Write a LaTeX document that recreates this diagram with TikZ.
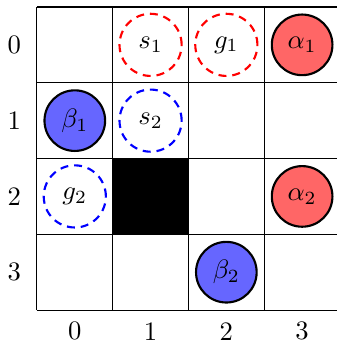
\documentclass[tikz,border=0pt]{standalone}
\usepackage{tikz}
\usetikzlibrary{positioning}
\definecolor{agentred}{HTML}{FF6666}
\definecolor{agentblue}{HTML}{6666FF}

\begin{document}
\begin{tikzpicture}[
  x=1cm, y=1cm,
  agent/.style={circle, draw=black, thick, minimum size=0.8cm, inner sep=0pt},
  target/.style={circle, thick, dash pattern=on 3pt off 2.2pt, minimum size=0.82cm, inner sep=0pt, text=black},
  cellnum/.style={font=\normalsize}
]
\useasboundingbox (-0.487,-0.474) rectangle (3.947,4.092);
% grid and wall
\fill[black] (1,1) rectangle (2,2);
\draw[thin] (0,0) grid (4,4);
\foreach \i in {0,...,3} {
  \node[cellnum] (row\i) at (-0.3,3.5-\i) {\i};
  \node[cellnum] (col\i) at (\i+0.5,-0.28) {\i};
}
% starts and goals
\node[target, draw=red] (s1) at (1.5,3.5) {$s_1$};
\node[target, draw=red] (g1) at (2.5,3.5) {$g_1$};
\node[target, draw=blue] (s2) at (1.5,2.5) {$s_2$};
\node[target, draw=blue] (g2) at (0.5,1.5) {$g_2$};
% agents
\node[agent, fill=agentred] (a1) at (3.5,3.5) {$\alpha_1$};
\node[agent, fill=agentred] (a2) at (3.5,1.5) {$\alpha_2$};
\node[agent, fill=agentblue] (b1) at (0.5,2.5) {$\beta_1$};
\node[agent, fill=agentblue] (b2) at (2.5,0.5) {$\beta_2$};
\end{tikzpicture}
\end{document}
